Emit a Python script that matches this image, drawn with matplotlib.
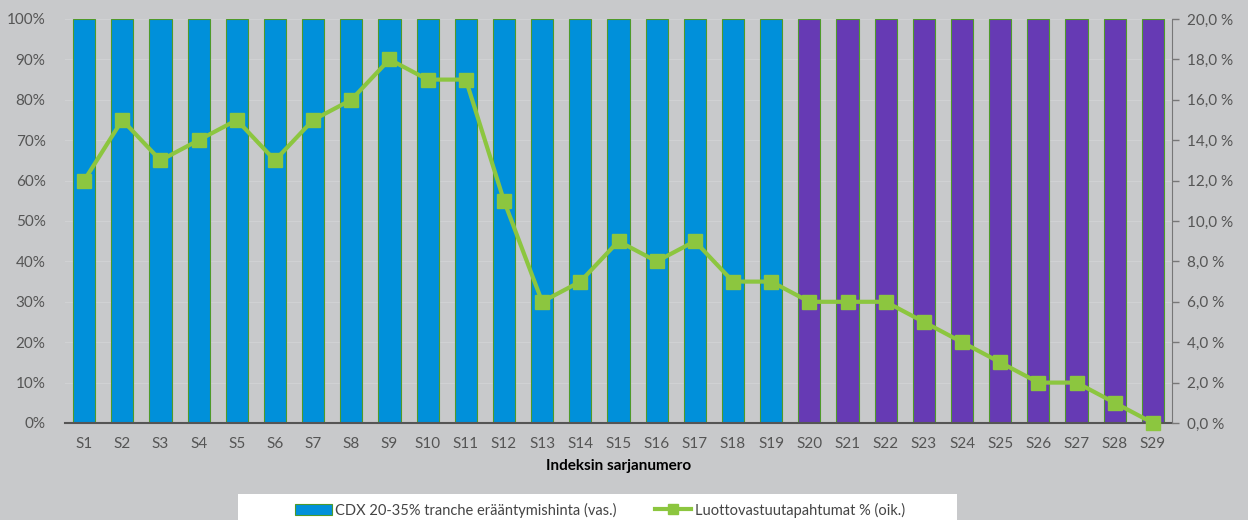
import matplotlib
matplotlib.use("Agg")
import matplotlib.pyplot as plt
from matplotlib.lines import Line2D
from matplotlib.patches import Patch, Rectangle
from matplotlib.ticker import FuncFormatter

plt.rcParams['font.family'] = ['Lato', 'DejaVu Sans']

series = [f"S{i}" for i in range(1, 30)]
tranche_price = [100] * 29
blue_count = 19
defaults_pct = [12, 15, 13, 14, 15, 13, 15, 16, 18, 17, 17, 11, 6, 7, 9, 8, 9, 7, 7,
                6, 6, 6, 5, 4, 3, 2, 2, 1, 0]

bg = '#c8c9cb'
blue = '#0090da'
purple = '#663ab4'
green = '#8cc63f'
edge = '#4f9a2a'
txt = '#555555'

W, H = 1248, 520
fig = plt.figure(figsize=(12.48, 5.2), dpi=100, facecolor=bg)
ax = fig.add_axes([65/W, 1-423/H, (1172-65)/W, (423-19)/H], facecolor=bg)
x = list(range(len(series)))
colors = [blue if i < blue_count else purple for i in x]
ax.bar(x, tranche_price, width=0.58, color=colors, edgecolor=edge, linewidth=0.8, zorder=2)
ax.set_xlim(-0.5, len(series) - 0.5)
ax.set_ylim(0, 100)
ax.set_yticks(range(0, 101, 10))
ax.yaxis.set_major_formatter(FuncFormatter(lambda v, p: f"{int(v)}%"))
ax.grid(axis='y', color='#d0d1d3', linewidth=0.8, zorder=0)
ax.set_xticks(x)
ax.set_xticklabels(series)
ax.tick_params(axis='x', length=0, pad=10, labelsize=11, labelcolor=txt)
ax.tick_params(axis='y', length=0, pad=14, labelsize=11, labelcolor=txt)
for s in ['top', 'left', 'right']:
    ax.spines[s].set_visible(False)
ax.spines['bottom'].set_color('#555555')
ax.spines['bottom'].set_linewidth(1.5)
ax.spines['bottom'].set_zorder(5)
ax.set_xlabel("Indeksin sarjanumero", fontsize=11, fontweight='bold', color='black', labelpad=6)

ax2 = ax.twinx()
ax2.plot(x, defaults_pct, color=green, linewidth=3, marker='s', markersize=10.5,
         markerfacecolor=green, markeredgecolor=green, zorder=4, clip_on=False)
ax2.set_ylim(0, 20)
ax2.set_yticks(range(0, 21, 2))
ax2.yaxis.set_major_formatter(FuncFormatter(lambda v, p: f"{v:.1f}".replace('.', ',') + " %"))
ax2.tick_params(axis='y', length=5, width=1, color='#777777', pad=6, labelsize=11, labelcolor=txt)
for s in ['top', 'left', 'bottom']:
    ax2.spines[s].set_visible(False)
ax2.spines['right'].set_color('#777777')

# white legend panel
fig.patches.append(Rectangle((238/W, 0), (957-238)/W, (520-494)/H, transform=fig.transFigure,
                             facecolor='white', edgecolor='none', zorder=0))

handles = [Patch(facecolor=blue, edgecolor=edge, linewidth=0.8),
           Line2D([0], [0], color=green, linewidth=3, marker='s', markersize=7)]
labels = ["CDX 20-35% tranche erääntymishinta (vas.)", "Luottovastuutapahtumat % (oik.)"]
leg = fig.legend(handles, labels, loc='center', bbox_to_anchor=(600/W, 1-510/H),
                 ncol=2, frameon=False, fontsize=10.5, handlelength=2.5, handleheight=0.7,
                 handletextpad=0.25, columnspacing=2.6, borderaxespad=0, borderpad=0,
                 labelcolor='#444444')

fig.savefig("out.png", dpi=100, facecolor=bg)
